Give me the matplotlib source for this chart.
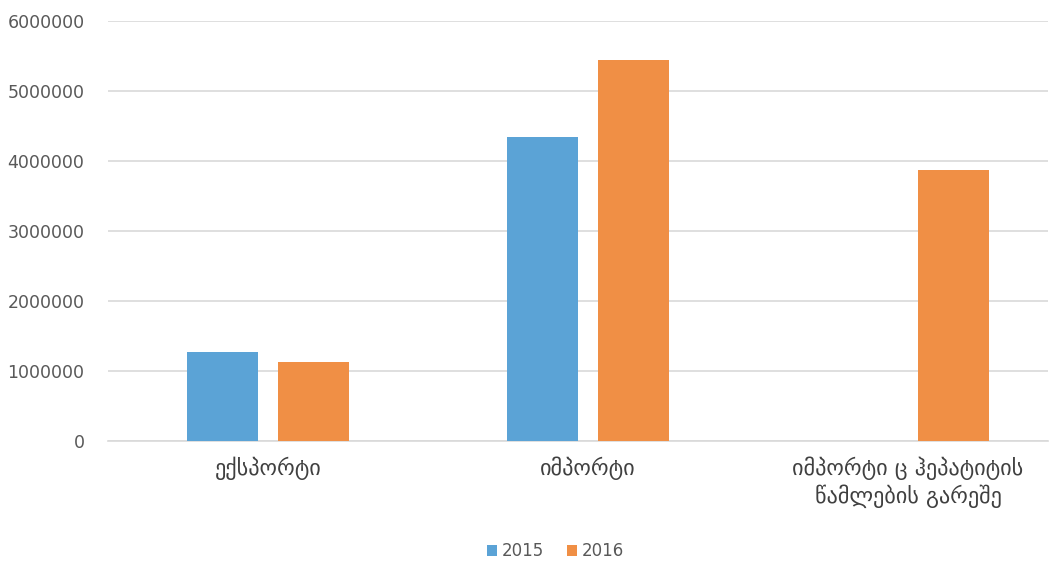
import numpy as np
import matplotlib
matplotlib.use('Agg')
import matplotlib.pyplot as plt

# Data
categories = ['ექსპორტი', 'იმპორტი', 'იმპორტი ც ჰეპატიტის\nწამლების გარეშე']
series_names = ['2015', '2016']
values_2015 = [1271000, 4347000, 0]
values_2016 = [1133000, 5443000, 3871000]
yticks = [0, 1000000, 2000000, 3000000, 4000000, 5000000, 6000000]

colors = ['#5BA3D6', '#F08F45']

fig = plt.figure(figsize=(10.6, 5.62), dpi=100)
ax = fig.add_axes([0.1019, 0.2153, 0.8868, 0.7473])

x = np.arange(len(categories))
w = 0.222
off = 0.142
ax.bar(x - off, values_2015, width=w, color=colors[0], label=series_names[0], zorder=3)
ax.bar(x + off, values_2016, width=w, color=colors[1], label=series_names[1], zorder=3)

ax.set_xlim(-0.5, 2.4375)
ax.set_ylim(0, 6000000)
ax.set_yticks(yticks)
ax.set_yticklabels([str(v) for v in yticks])
ax.yaxis.grid(True, color='#d9d9d9', linewidth=1.2, zorder=0)
ax.set_axisbelow(True)

for s in ['top', 'right', 'left']:
    ax.spines[s].set_visible(False)
ax.spines['bottom'].set_color('#d9d9d9')
ax.spines['bottom'].set_linewidth(1.2)

ax.tick_params(axis='y', length=0, pad=17, labelsize=12.5, labelcolor='#595959')
ax.tick_params(axis='x', length=0, pad=11)
ax.set_xticks(x)
ax.set_xticklabels(categories, fontsize=16, color='#404040', linespacing=1.25)

ax.legend(loc='upper center', bbox_to_anchor=(0.476, -0.205), ncol=2, frameon=False,
          fontsize=12, labelcolor='#595959', handlelength=0.6, handleheight=0.6,
          handletextpad=0.3, columnspacing=1.4)

fig.savefig('out.png', dpi=100)
